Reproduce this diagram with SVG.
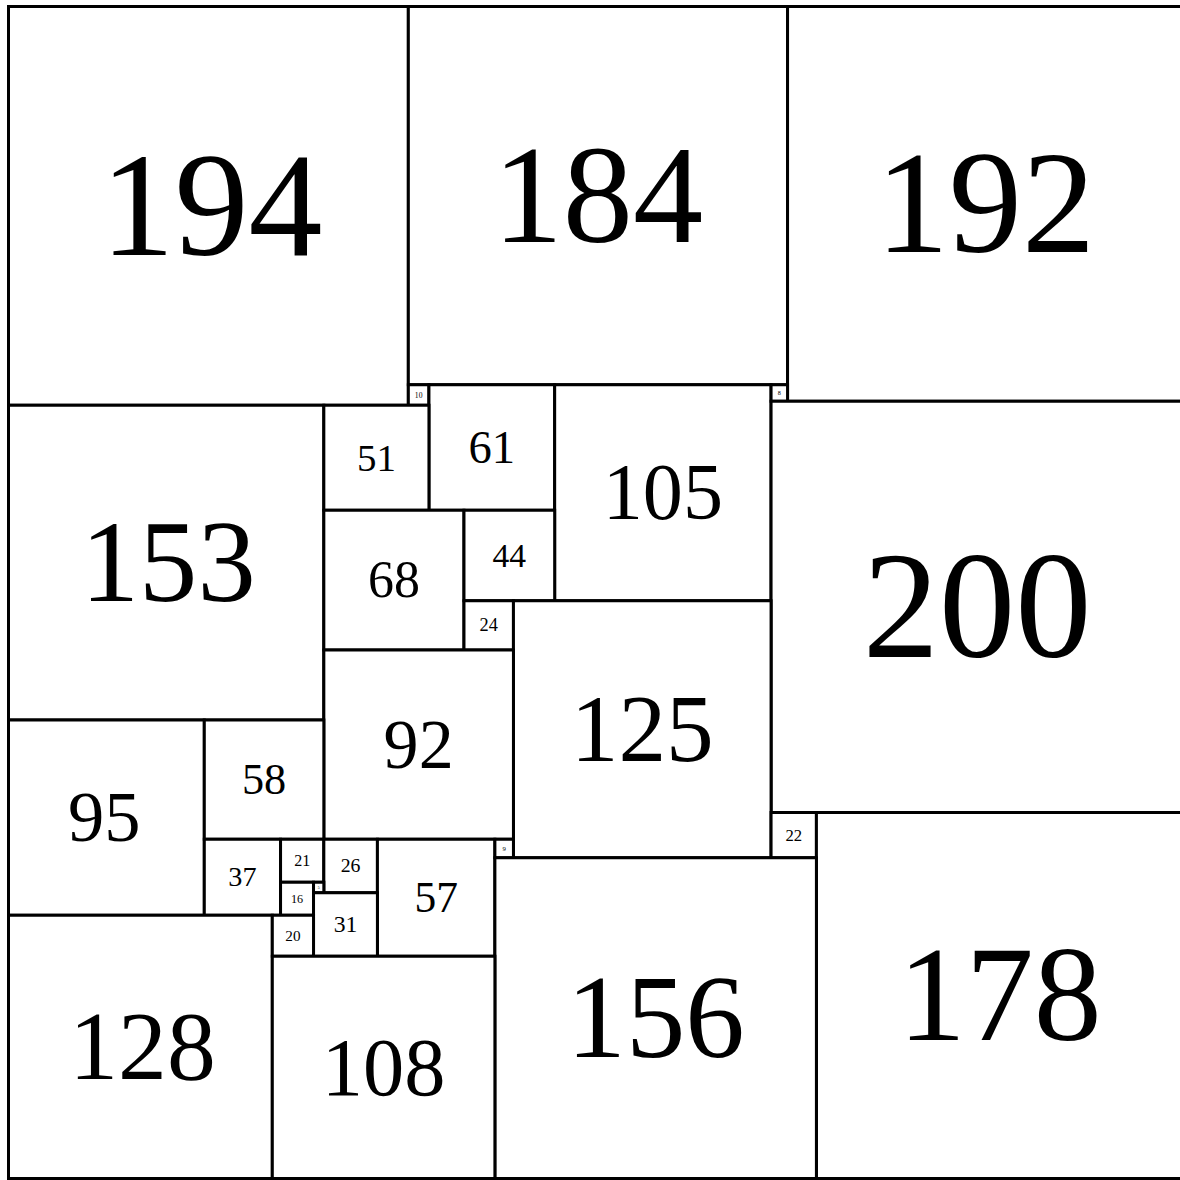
<svg xmlns="http://www.w3.org/2000/svg" width="1180" height="1180" viewBox="0 0 1180 1180">
<style>
.sq{fill:#fff;stroke:#000;stroke-width:3;vector-effect:non-scaling-stroke}
.lb{font-family:"Liberation Serif","Times New Roman",serif;text-anchor:middle;fill:#000}
</style>
<rect width="1180" height="1180" fill="#fff"/>
<g transform="translate(8.5,6.5) scale(2.061,2.056)">
<g id="s194"><rect class="sq" x="0" y="0" width="194" height="194"/><text class="lb" x="98.5" y="120.7" font-size="71.8">194</text></g>
<g id="s184"><rect class="sq" x="194" y="0" width="184" height="184"/><text class="lb" x="286" y="114.5" font-size="68.1">184</text></g>
<g id="s192"><rect class="sq" x="378" y="0" width="192" height="192"/><text class="lb" x="474" y="119.4" font-size="71">192</text></g>
<g id="s153"><rect class="sq" x="0" y="194" width="153" height="153"/><text class="lb" x="77.5" y="289.2" font-size="56.6">153</text></g>
<g id="s10"><rect class="sq" x="194" y="184" width="10" height="10"/><text class="lb" x="199" y="190.2" font-size="3.7">10</text></g>
<g id="s61"><rect class="sq" x="204" y="184" width="61" height="61"/><text class="lb" x="234.5" y="222" font-size="22.6">61</text></g>
<g id="s105"><rect class="sq" x="265" y="184" width="105" height="105"/><text class="lb" x="317.5" y="249.3" font-size="38.9">105</text></g>
<g id="s8"><rect class="sq" x="370" y="184" width="8" height="8"/><text class="lb" x="374" y="189" font-size="3">8</text></g>
<g id="s200"><rect class="sq" x="370" y="192" width="200" height="200"/><text class="lb" x="470" y="316.4" font-size="74">200</text></g>
<g id="s51"><rect class="sq" x="153" y="194" width="51" height="51"/><text class="lb" x="178.5" y="225.7" font-size="18.9">51</text></g>
<g id="s68"><rect class="sq" x="153" y="245" width="68" height="68"/><text class="lb" x="187" y="287.3" font-size="25.2">68</text></g>
<g id="s44"><rect class="sq" x="221" y="245" width="44" height="44"/><text class="lb" x="243" y="272.4" font-size="16.3">44</text></g>
<g id="s24"><rect class="sq" x="221" y="289" width="24" height="24"/><text class="lb" x="233" y="303.9" font-size="8.9">24</text></g>
<g id="s125"><rect class="sq" x="245" y="289" width="125" height="125"/><text class="lb" x="307.5" y="366.8" font-size="46.3">125</text></g>
<g id="s92"><rect class="sq" x="153" y="313" width="92" height="92"/><text class="lb" x="199" y="370.2" font-size="34">92</text></g>
<g id="s95"><rect class="sq" x="0" y="347" width="95" height="95"/><text class="lb" x="46.5" y="406.1" font-size="35.2">95</text></g>
<g id="s58"><rect class="sq" x="95" y="347" width="58" height="58"/><text class="lb" x="124" y="383.1" font-size="21.5">58</text></g>
<g id="s37"><rect class="sq" x="95" y="405" width="37" height="37"/><text class="lb" x="113.5" y="428" font-size="13.7">37</text></g>
<g id="s21"><rect class="sq" x="132" y="405" width="21" height="21"/><text class="lb" x="142.5" y="418.1" font-size="7.8">21</text></g>
<g id="s26"><rect class="sq" x="153" y="405" width="26" height="26"/><text class="lb" x="166" y="421.2" font-size="9.6">26</text></g>
<g id="s57"><rect class="sq" x="179" y="405" width="57" height="57"/><text class="lb" x="207.5" y="440.5" font-size="21.1">57</text></g>
<g id="s9"><rect class="sq" x="236" y="405" width="9" height="9"/><text class="lb" x="240.5" y="410.6" font-size="3.3">9</text></g>
<g id="s22"><rect class="sq" x="370" y="392" width="22" height="22"/><text class="lb" x="381" y="405.7" font-size="8.1">22</text></g>
<g id="s178"><rect class="sq" x="392" y="392" width="178" height="178"/><text class="lb" x="481" y="502.7" font-size="65.9">178</text></g>
<g id="s156"><rect class="sq" x="236" y="414" width="156" height="156"/><text class="lb" x="314" y="511" font-size="57.7">156</text></g>
<g id="s16"><rect class="sq" x="132" y="426" width="16" height="16"/><text class="lb" x="140" y="435.9" font-size="5.9">16</text></g>
<g id="s5"><rect class="sq" x="148" y="426" width="5" height="5"/><text class="lb" x="150.5" y="429.1" font-size="1.85">5</text></g>
<g id="s31"><rect class="sq" x="148" y="431" width="31" height="31"/><text class="lb" x="163.5" y="450.3" font-size="11.5">31</text></g>
<g id="s128"><rect class="sq" x="0" y="442" width="128" height="128"/><text class="lb" x="65" y="521.6" font-size="47.4">128</text></g>
<g id="s20"><rect class="sq" x="128" y="442" width="20" height="20"/><text class="lb" x="138" y="454.4" font-size="7.4">20</text></g>
<g id="s108"><rect class="sq" x="128" y="462" width="108" height="108"/><text class="lb" x="182" y="529.2" font-size="40">108</text></g>
</g>
<g id="connectors"/>
</svg>
